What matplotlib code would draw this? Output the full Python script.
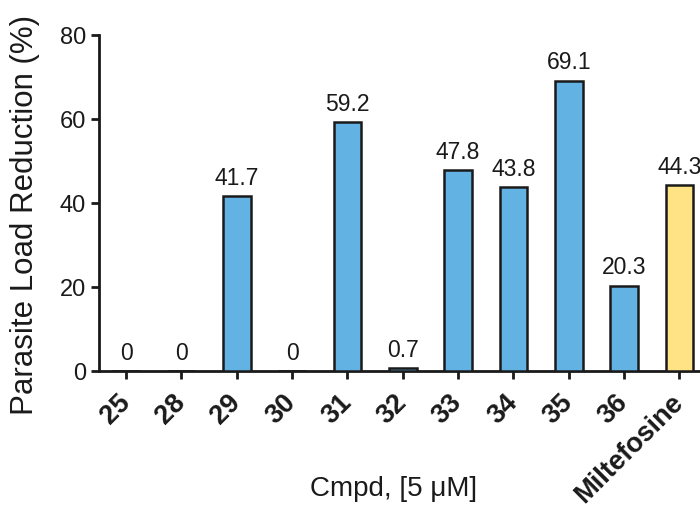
import matplotlib
matplotlib.use("Agg")
import matplotlib.pyplot as plt
from matplotlib.transforms import ScaledTranslation

categories = ["25", "28", "29", "30", "31", "32", "33", "34", "35", "36", "Miltefosine"]
values = [0, 0, 41.7, 0, 59.2, 0.7, 47.8, 43.8, 69.1, 20.3, 44.3]
labels = ["0", "0", "41.7", "0", "59.2", "0.7", "47.8", "43.8", "69.1", "20.3", "44.3"]
yticks = [0, 20, 40, 60, 80]

blue = "#62b2e4"
yellow = "#ffe384"
colors = [blue] * 10 + [yellow]

plt.rcParams['font.family'] = ['Liberation Sans', 'DejaVu Sans']
ink = "#1a1a1a"

fig = plt.figure(figsize=(7.0, 5.07), dpi=100)
ax = fig.add_axes([99/700, 1-371/507, 608/700, (371-35)/507])

x = list(range(len(categories)))
ax.bar(x, values, width=0.5, color=colors, edgecolor=ink, linewidth=1.8, zorder=3)
for xi, v, lab in zip(x, values, labels):
    ax.text(xi, v + 1.5, lab, ha="center", va="bottom", fontsize=16.5, color=ink)

ax.set_xlim(-0.49, 10.5)
ax.set_ylim(0, 80)
ax.set_yticks(yticks)
ax.set_yticklabels([str(t) for t in yticks], fontsize=17)
ax.set_xticks(x)
ax.set_xticklabels(categories, rotation=45, ha="right", va="center", rotation_mode="anchor",
                   fontsize=19.5, fontweight="bold")
shift = ScaledTranslation(5/100, -2/100, fig.dpi_scale_trans)
for lab in ax.get_xticklabels():
    lab.set_transform(lab.get_transform() + shift)
ax.spines["top"].set_visible(False)
ax.spines["right"].set_visible(False)
for s in ["left", "bottom"]:
    ax.spines[s].set_linewidth(2.0)
    ax.spines[s].set_color(ink)
ax.tick_params(axis="both", length=6, width=2.0, color=ink, labelcolor=ink)
ax.tick_params(axis="x", pad=14)
ax.set_ylabel("Parasite Load Reduction (%)", fontsize=22.5, color=ink)
ax.yaxis.set_label_coords(-0.097, 0.464)
ax.set_xlabel("Cmpd, [5 \u03bcM]", fontsize=20, color=ink)
ax.xaxis.set_label_coords(0.485, -0.351)
ax.xaxis.label.set_va("center")

fig.savefig("out.png", dpi=100)
